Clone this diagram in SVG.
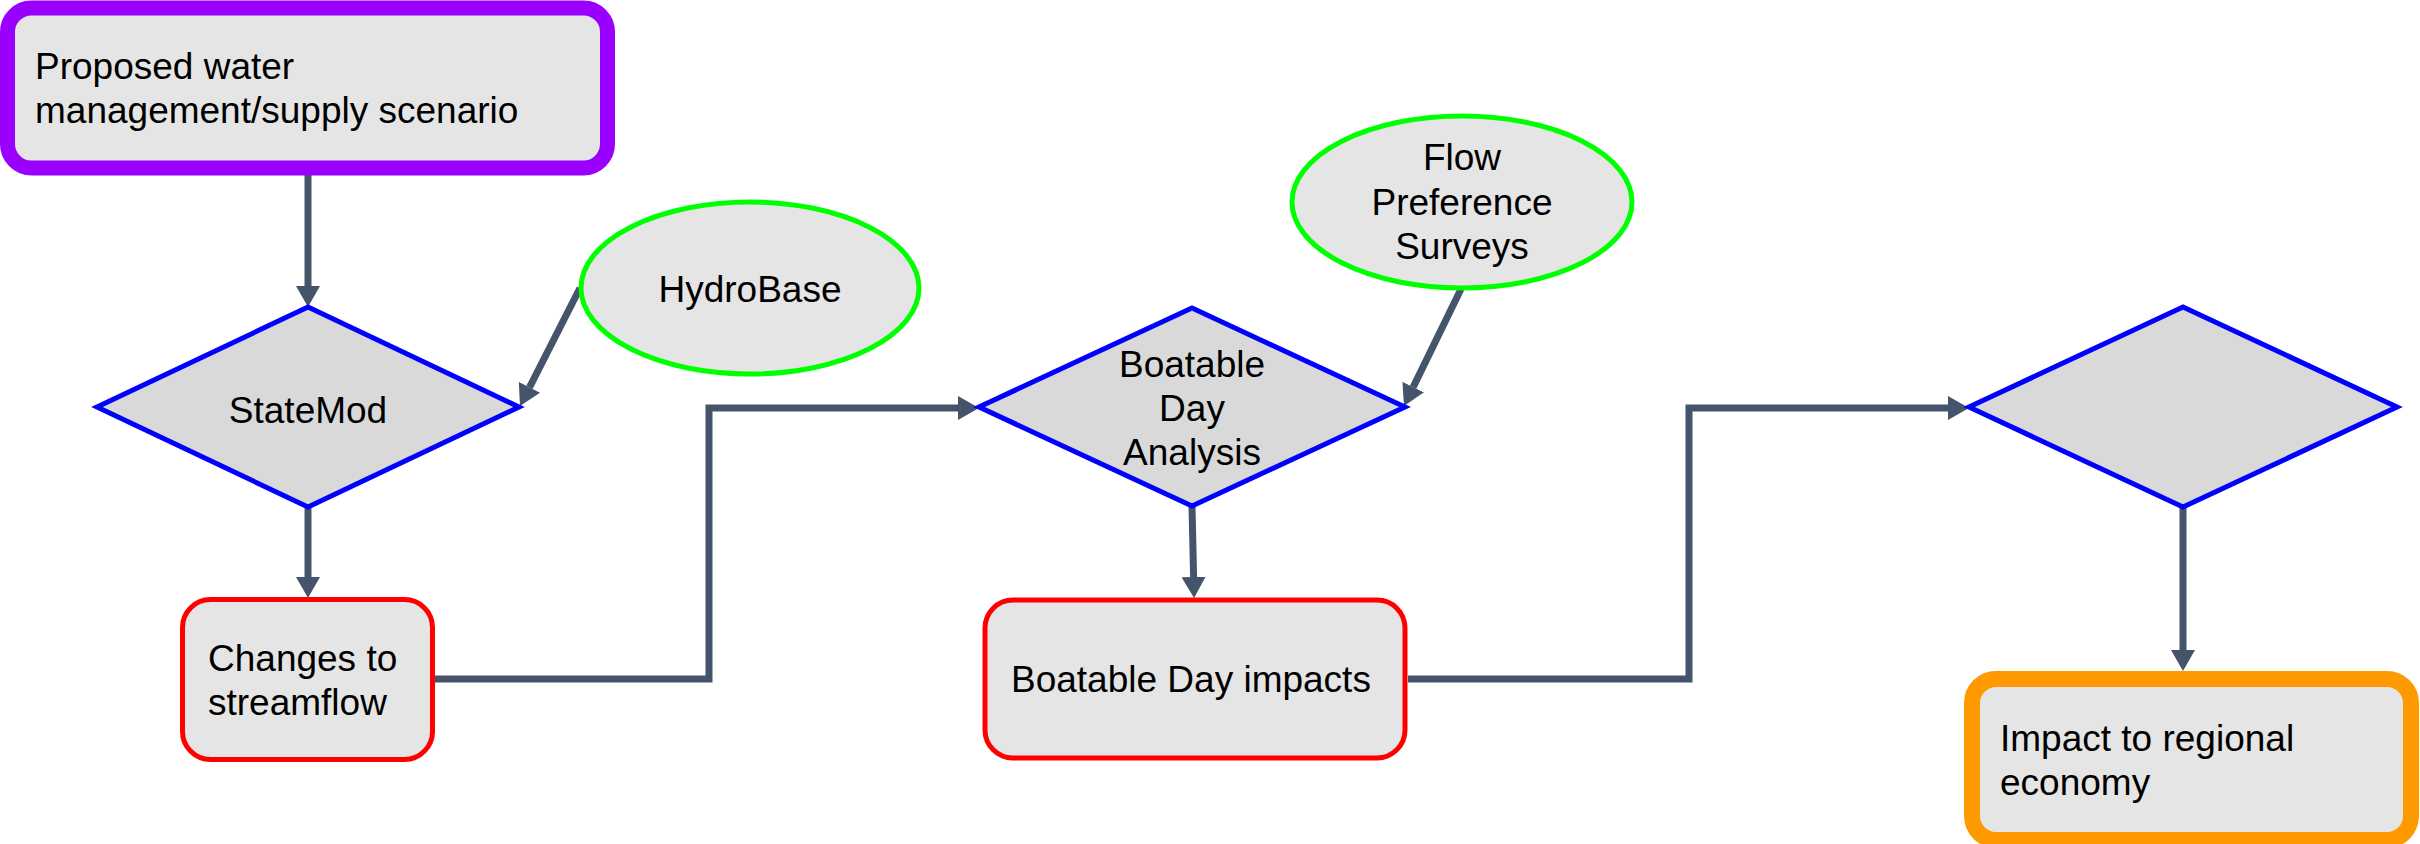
<svg xmlns="http://www.w3.org/2000/svg" width="2420" height="844" viewBox="0 0 2420 844">
<style>
text{font-family:"Liberation Sans",Arial,sans-serif;font-size:37px;fill:#000}
.c{text-anchor:middle}
.box{fill:#E5E5E5}
.dia{fill:#D9D9D9;stroke:#0000FF;stroke-width:5;stroke-linejoin:miter}
.ell{fill:#E5E5E5;stroke:#00FF00;stroke-width:5}
.red{stroke:#FF0000;stroke-width:5}
.conn{fill:none;stroke:#44546A;stroke-width:7;marker-end:url(#ah)}
</style>
<defs>
<marker id="ah" markerUnits="userSpaceOnUse" markerWidth="22" markerHeight="24" refX="0" refY="12" orient="auto" viewBox="0 0 22 24">
<path d="M0,0 L21,12 L0,24 z" fill="#44546A"/>
</marker>
</defs>
<rect width="2420" height="844" fill="#FFFFFF"/>
<g id="connectors">
<path class="conn" d="M308,168 L308,286"/>
<path class="conn" d="M308,507 L308,577"/>
<path class="conn" d="M580,288 L529.5,387.3"/>
<path class="conn" d="M435,679 L709,679 L709,408 L958,408"/>
<path class="conn" d="M1461,289 L1413.2,387.1"/>
<path class="conn" d="M1192,506 L1193.6,577"/>
<path class="conn" d="M1408,679 L1689,679 L1689,408 L1948,408"/>
<path class="conn" d="M2183,507 L2183,650"/>
</g>
<g id="proposed">
<rect class="box" x="7.5" y="8" width="600" height="160" rx="24" stroke="#9900FF" stroke-width="15"/>
<text x="35" y="79">Proposed water</text>
<text x="35" y="123">management/supply scenario</text>
</g>
<g id="statemod">
<polygon class="dia" points="308,307 519,407 308,507 97,407"/>
<text class="c" x="308" y="423">StateMod</text>
</g>
<g id="hydrobase">
<ellipse class="ell" cx="750" cy="288" rx="169" ry="86"/>
<text class="c" x="750" y="302">HydroBase</text>
</g>
<g id="changes">
<rect class="box red" x="182.5" y="599.5" width="250" height="160" rx="28"/>
<text x="208" y="671">Changes to</text>
<text x="208" y="715">streamflow</text>
</g>
<g id="boatable-analysis">
<polygon class="dia" points="1192,308 1405,407 1192,506 979,407"/>
<text class="c" x="1192" y="377">Boatable</text>
<text class="c" x="1192" y="421">Day</text>
<text class="c" x="1192" y="465">Analysis</text>
</g>
<g id="flow-preference">
<ellipse class="ell" cx="1462" cy="202" rx="170" ry="86"/>
<text class="c" x="1462" y="170">Flow</text>
<text class="c" x="1462" y="215">Preference</text>
<text class="c" x="1462" y="259">Surveys</text>
</g>
<g id="boatable-impacts">
<rect class="box red" x="985" y="600" width="420" height="158" rx="28"/>
<text x="1011" y="692">Boatable Day impacts</text>
</g>
<g id="diamond3">
<polygon class="dia" points="2183,307 2397,407 2183,507 1969,407"/>
</g>
<g id="impact-economy">
<rect class="box" x="1972" y="679" width="439" height="161" rx="24" stroke="#FF9900" stroke-width="16"/>
<text x="2000" y="751">Impact to regional</text>
<text x="2000" y="795">economy</text>
</g>
</svg>
